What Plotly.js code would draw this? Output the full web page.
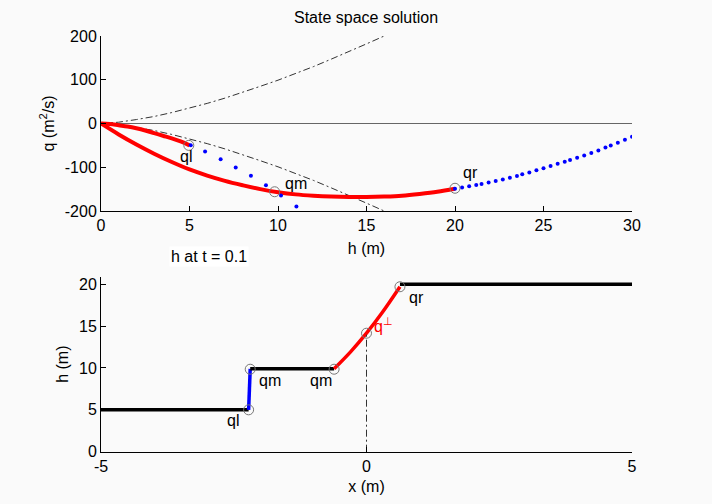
<!DOCTYPE html>
<html>
<head>
<meta charset="utf-8">
<script src="https://cdn.plot.ly/plotly-3.0.1.min.js"></script>
<style>html,body{margin:0;padding:0;background:#fafafa;}#plot{width:712px;height:504px;}</style>
</head>
<body>
<div id="plot"></div>
<script>
// ---------- Top panel: state space ----------
const zeroH = [0, 30];
const zeroQ = [0, 0];

const hEnv = [0,1,2,3,4,5,6,7,8,9,10,11,12,13,14,15,16];
const qEnvUp = [0,3,9,16,25,35,46,58,71,85,99,114,130,147,164,182,200];
const qEnvLo = [0,-3,-9,-16,-25,-35,-46,-58,-71,-85,-99,-114,-130,-147,-164,-182,-200];

const hRedUp = [0,0.5,1,1.5,2,2.5,3,3.5,4,4.5,5];
const qRedUp = [0,-1,-4,-7,-11,-16,-22,-28,-34,-41,-50];

const hRedLo = [0,1,2,3,4,5,6,7,8,9,10,11,12,13,14,15,16,17,18,19,20];
const qRedLo = [0,-25,-48,-69,-88,-105,-119,-131,-141,-150,-157,-162,-165,-167,-168,-168,-167,-165,-161,-156,-149];

const hBlueL = [5.07,5.88,6.76,7.61,8.47,9.32,10.17,11.04];
const qBlueL = [-49.5,-64,-81.5,-100.6,-119.6,-141,-164.6,-189.7];

const hBlueR = [20.0,20.4,20.8,21.2,21.5,21.9,22.3,22.7,23.1,23.5,23.8,24.2,24.6,25.0,25.4,25.8,26.2,26.5,26.9,27.3,27.7,28.1,28.5,28.8,29.2,29.6,30.0];
const qBlueR = [-149,-146,-143.5,-140.5,-138,-135,-131.5,-128,-124,-120,-116,-112,-107,-102,-97,-92,-87.5,-83.5,-78,-73,-67.5,-61.5,-55,-50,-44,-37,-30];

const statesH = [4.96, 9.81, 20.0];
const statesQ = [-50, -156, -148];
const stateLabels = ['ql', 'qm', 'qr'];
const stateLabelH = [4.81, 11.04, 20.88];
const stateLabelQ = [-76, -136, -112];

const topXTicks = [0,5,10,15,20,25,30];
const topYTicks = [-200,-100,0,100,200];
const topYTickText = ['-200','-100','0','100','200'];

// ---------- Bottom panel: h(x) ----------
const xLeft = [-5, -2.22];      const hLeft = [5, 5];
const xShock = [-2.22, -2.19];  const hShock = [5, 9.9];
const xMid = [-2.19, -0.61];    const hMid = [9.9, 9.9];
const xFan = [-0.61, -0.3, 0, 0.3, 0.63];
const hFan = [9.9, 11.92, 14.15, 16.65, 19.7];
const xRight = [0.63, 5];       const hRight = [20, 20];
const xVert = [0, 0];           const hVert = [0, 14.15];

const ptX = [-2.22, -2.19, -0.61, 0, 0.63];
const ptH = [5, 9.85, 9.85, 14.15, 19.7];

const bLabels = ['ql', 'qm', 'qm', 'qr'];
const bLabelX = [-2.52, -1.81, -0.85, 0.94];
const bLabelH = [3.67, 8.56, 8.56, 18.44];

const botXTicks = [-5, 0, 5];
const botXTickText = ['-5', '0', '5'];
const botYTicks = [0, 5, 10, 15, 20];

const FONT = 'Liberation Sans, Arial, sans-serif';
const red = '#ff0000', blue = '#0000ff', circ = '#777777', dd = '#333333';

const traces = [
  {x: zeroH, y: zeroQ, mode: 'lines', line: {color: '#666666', width: 1.2}, xaxis: 'x', yaxis: 'y'},
  {x: hEnv, y: qEnvUp, mode: 'lines', line: {color: dd, width: 1, dash: '7px,3px,2px,3px'}, xaxis: 'x', yaxis: 'y'},
  {x: hEnv, y: qEnvLo, mode: 'lines', line: {color: dd, width: 1, dash: '7px,3px,2px,3px'}, xaxis: 'x', yaxis: 'y'},
  {x: hRedUp, y: qRedUp, mode: 'lines', line: {color: red, width: 4, shape: 'spline'}, xaxis: 'x', yaxis: 'y'},
  {x: hRedLo, y: qRedLo, mode: 'lines', line: {color: red, width: 4, shape: 'spline'}, xaxis: 'x', yaxis: 'y'},
  {x: hBlueL, y: qBlueL, mode: 'markers', marker: {color: blue, size: 4}, xaxis: 'x', yaxis: 'y'},
  {x: hBlueR, y: qBlueR, mode: 'markers', marker: {color: blue, size: 4}, xaxis: 'x', yaxis: 'y'},
  {x: statesH, y: statesQ, mode: 'markers', marker: {symbol: 'circle-open', color: circ, size: 10, line: {width: 1}}, xaxis: 'x', yaxis: 'y'},

  {x: xLeft, y: hLeft, mode: 'lines', line: {color: '#000000', width: 3.5}, xaxis: 'x2', yaxis: 'y2'},
  {x: xShock, y: hShock, mode: 'lines', line: {color: blue, width: 3.5}, xaxis: 'x2', yaxis: 'y2'},
  {x: xMid, y: hMid, mode: 'lines', line: {color: '#000000', width: 3.5}, xaxis: 'x2', yaxis: 'y2'},
  {x: xFan, y: hFan, mode: 'lines', line: {color: red, width: 3.5, shape: 'spline'}, xaxis: 'x2', yaxis: 'y2'},
  {x: xRight, y: hRight, mode: 'lines', line: {color: '#000000', width: 3.5}, xaxis: 'x2', yaxis: 'y2'},
  {x: xVert, y: hVert, mode: 'lines', line: {color: dd, width: 1, dash: '7px,3px,2px,3px'}, xaxis: 'x2', yaxis: 'y2'},
  {x: ptX, y: ptH, mode: 'markers', marker: {symbol: 'circle-open', color: circ, size: 10, line: {width: 1}}, xaxis: 'x2', yaxis: 'y2'}
];

const annotations = [];
for (let i = 0; i < stateLabels.length; i++) {
  annotations.push({x: stateLabelH[i], y: stateLabelQ[i], xref: 'x', yref: 'y', text: stateLabels[i], showarrow: false, font: {family: FONT, size: 16, color: '#000'}});
}
for (let i = 0; i < bLabels.length; i++) {
  annotations.push({x: bLabelX[i], y: bLabelH[i], xref: 'x2', yref: 'y2', text: bLabels[i], showarrow: false, font: {family: FONT, size: 16, color: '#000'}});
}
annotations.push({x: 0.32, y: 15.1, xref: 'x2', yref: 'y2', text: 'q<sup>⊥</sup>', showarrow: false, font: {family: FONT, size: 16, color: red}});
annotations.push({x: 168.5/712, y: 1 - 256.7/504, xref: 'paper', yref: 'paper', text: 'h at t = 0.1', showarrow: false, font: {family: FONT, size: 16, color: '#000'}, bgcolor: '#ffffff'});

const axBase = {showgrid: false, zeroline: false, showline: true, linecolor: '#000', linewidth: 1, ticks: 'inside', ticklen: 5, tickcolor: '#000', mirror: false, tickfont: {family: FONT, size: 16, color: '#000'}, fixedrange: true};

const layout = {
  width: 712, height: 504,
  margin: {l: 0, r: 0, t: 0, b: 0},
  paper_bgcolor: '#fafafa', plot_bgcolor: 'rgba(0,0,0,0)',
  showlegend: false,
  title: {text: 'State space solution', x: 366/712, xanchor: 'center', y: 1 - 17/504, yanchor: 'middle', font: {family: FONT, size: 16, color: '#000'}},
  xaxis: Object.assign({}, axBase, {domain: [101/712, 632/712], range: [0, 30], tickvals: topXTicks, anchor: 'y',
    title: {text: 'h (m)', font: {family: FONT, size: 16, color: '#000'}, standoff: 9}}),
  yaxis: Object.assign({}, axBase, {domain: [1 - 211/504, 1 - 36/504], range: [-200, 200], tickvals: topYTicks, ticktext: topYTickText, anchor: 'x',
    title: {text: 'q (m<sup>2</sup>/s)', font: {family: FONT, size: 16, color: '#000'}, standoff: 6}}),
  xaxis2: Object.assign({}, axBase, {domain: [101/712, 632/712], range: [-5, 5], tickvals: botXTicks, ticktext: botXTickText, anchor: 'y2',
    title: {text: 'x (m)', font: {family: FONT, size: 16, color: '#000'}, standoff: 6}}),
  yaxis2: Object.assign({}, axBase, {domain: [1 - 451.7/504, 1 - 276.7/504], range: [0, 20.9], tickvals: botYTicks, anchor: 'x2',
    title: {text: 'h (m)', font: {family: FONT, size: 16, color: '#000'}, standoff: 6}}),
  annotations: annotations
};

Plotly.newPlot('plot', traces, layout, {displayModeBar: false, staticPlot: true});
</script>
</body>
</html>
